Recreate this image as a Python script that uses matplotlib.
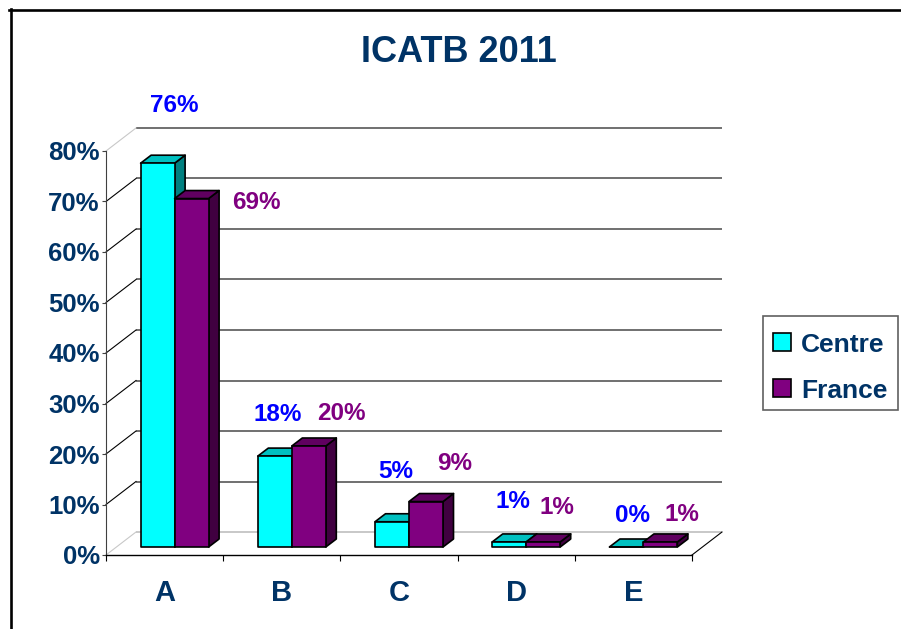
import matplotlib
matplotlib.use('Agg')
import matplotlib.pyplot as plt
from matplotlib.patches import Polygon, Rectangle
from matplotlib.lines import Line2D

# ---------------- data ----------------
title = 'ICATB 2011'
categories = ['A', 'B', 'C', 'D', 'E']
series_names = ['Centre', 'France']
centre = [76, 18, 5, 1, 0]
france = [69, 20, 9, 1, 1]
y_ticks = [0, 10, 20, 30, 40, 50, 60, 70, 80]
y_tick_labels = ['0%', '10%', '20%', '30%', '40%', '50%', '60%', '70%', '80%']

# ---------------- style ----------------
plt.rcParams['font.family'] = ['Liberation Sans', 'DejaVu Sans']
NAVY = '#003366'
FACE = {'Centre': ('#00FFFF', '#00C0C0', '#008080'),
        'France': ('#800080', '#600060', '#400040')}
LABEL_COL = {'Centre': '#0000FF', 'France': '#800080'}
# label offsets in pixels (dx, dy up) relative to bar top-front-centre
label_off = {'Centre': [(17, 58), (3, 42), (4, 50), (4, 40), (6, 32)],
             'France': [(65, -4), (33, 32), (29, 38), (14, 34), (22, 27)]}

W, H = 901, 629
fig = plt.figure(figsize=(W / 100, H / 100), dpi=100)

AX_L, AX_R, AX_B, AX_T = 106, 692, 555, 151
ax = fig.add_axes([AX_L / W, 1 - AX_B / H, (AX_R - AX_L) / W, (AX_B - AX_T) / H])
n = len(categories)
ax.set_xlim(0, n)
ax.set_ylim(y_ticks[0], y_ticks[-1])
sx = (AX_R - AX_L) / n
sy = (AX_B - AX_T) / (y_ticks[-1] - y_ticks[0])


def ux(px):
    return px / sx


def uy(px):
    return px / sy


WALL = (ux(30), uy(23))      # back wall offset
FRONT = (ux(10), uy(8))      # bar front plane offset
DEPTH = (ux(10.5), uy(8))    # bar depth
BW = ux(34)                  # bar width

# back wall gridlines and left wall diagonals
for t in y_ticks:
    if t == 0:
        gc = '#C8C8C8'
    else:
        gc = '#707070'
    ax.plot([WALL[0], n + WALL[0]], [t + WALL[1]] * 2, color=gc, lw=1.4,
            clip_on=False, zorder=1, solid_capstyle='butt')
    dc = '#C8C8C8' if t in (y_ticks[0], y_ticks[-1]) else '#000000'
    ax.plot([0, WALL[0]], [t, t + WALL[1]], color=dc, lw=0.8, clip_on=False, zorder=1)
# floor right edge
ax.plot([n, n + WALL[0]], [0, WALL[1]], color='black', lw=0.8, clip_on=False, zorder=1)


def bar3d(x0, h, cols, z):
    x1 = x0 + BW
    y0 = FRONT[1]
    y1 = y0 + h
    dx, dy = DEPTH
    kw = dict(edgecolor='black', lw=1.2, joinstyle='round', clip_on=False, zorder=z)
    ax.add_patch(Polygon([(x1, y0), (x1 + dx, y0 + dy), (x1 + dx, y1 + dy), (x1, y1)],
                         facecolor=cols[2], **kw))
    ax.add_patch(Polygon([(x0, y1), (x1, y1), (x1 + dx, y1 + dy), (x0 + dx, y1 + dy)],
                         facecolor=cols[1], **kw))
    ax.add_patch(Rectangle((x0, y0), BW, h, facecolor=cols[0], **kw))


values = {'Centre': centre, 'France': france}
z = 3
for i in range(n):
    for k, name in enumerate(series_names):
        x0 = i + 0.5 - BW + k * BW + FRONT[0]
        v = values[name][i]
        bar3d(x0, v, FACE[name], z)
        z += 1
        odx, ody = label_off[name][i]
        ax.annotate(f'{v}%', xy=(x0 + BW / 2, FRONT[1] + v), xytext=(odx, ody),
                    textcoords='offset pixels', ha='center', va='center',
                    fontsize=17.5, fontweight='bold', color=LABEL_COL[name],
                    annotation_clip=False, zorder=50)

# axes / ticks
for s in ('top', 'right'):
    ax.spines[s].set_visible(False)
ax.spines['left'].set_color('#404040')
ax.spines['left'].set_linewidth(0.8)
ax.spines['bottom'].set_color('black')
ax.spines['bottom'].set_linewidth(1.0)
ax.set_yticks(y_ticks)
ax.set_yticklabels(y_tick_labels)
ax.tick_params(axis='y', length=3, width=0.8, color='#404040', pad=1.5,
               labelsize=18.5, labelcolor=NAVY)
for lab in ax.get_yticklabels():
    lab.set_fontweight('bold')
ax.set_xticks(range(n + 1))
ax.set_xticklabels([])
ax.set_xticks([i + 0.5 for i in range(n)], minor=True)
ax.set_xticklabels(categories, minor=True)
ax.tick_params(axis='x', which='major', length=4.5, width=0.8, color='black')
ax.tick_params(axis='x', which='minor', length=0, pad=17.5, labelsize=21,
               labelcolor=NAVY)
for lab in ax.get_xticklabels(minor=True):
    lab.set_fontweight('bold')
ax.patch.set_alpha(0)


def fx(px):
    return px / W


def fy(py):
    return 1 - py / H


# title
fig.text(fx(459), fy(52), title, ha='center', va='center', fontsize=26,
         fontweight='bold', color=NAVY)

# legend (manual)
fig.patches.append(Rectangle((fx(763), fy(410)), fx(898) - fx(763), fy(316) - fy(410),
                             transform=fig.transFigure, facecolor='white',
                             edgecolor='#606060', lw=1.2))
for k, (name, yc) in enumerate(zip(series_names, [342, 388])):
    fig.patches.append(Rectangle((fx(773), fy(yc + 9)), fx(18), 18 / H,
                                 transform=fig.transFigure, facecolor=FACE[name][0],
                                 edgecolor='black', lw=1.2))
    fig.text(fx(801), fy(yc), name, ha='left', va='center_baseline', fontsize=19,
             fontweight='bold', color=NAVY)

# outer frame
fig.lines.append(Line2D([fx(9), fx(901)], [fy(9.5), fy(9.5)], transform=fig.transFigure,
                        color='black', lw=1.9))
fig.lines.append(Line2D([fx(10.5), fx(10.5)], [fy(9), fy(629)], transform=fig.transFigure,
                        color='black', lw=1.9))

fig.savefig('out.png', dpi=100)
